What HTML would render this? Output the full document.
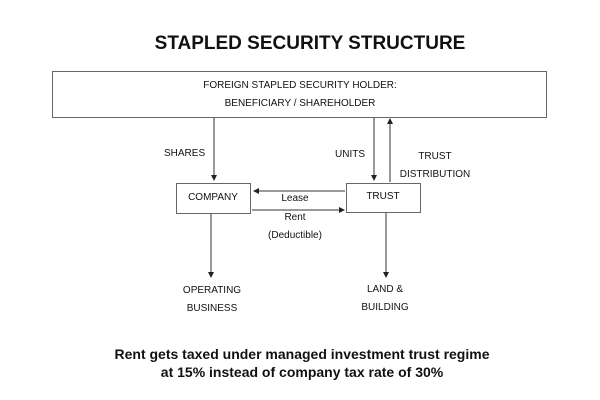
<!DOCTYPE html>
<html><head><style>
html,body{margin:0;padding:0;background:#fff;}
svg{display:block;}
text{font-family:"Liberation Sans",sans-serif;fill:#111;}
.s{font-size:10px;}
</style></head><body>
<svg width="600" height="400" viewBox="0 0 600 400">
<defs><marker id="a" markerWidth="6" markerHeight="6" refX="5" refY="3" orient="auto" markerUnits="userSpaceOnUse"><path d="M0,0 L6,3 L0,6 z" fill="#222"/></marker></defs>
<text x="310" y="49" text-anchor="middle" font-size="19" font-weight="bold">STAPLED SECURITY STRUCTURE</text>
<rect x="52.5" y="71.5" width="494" height="46" fill="none" stroke="#666"/>
<text class="s" x="300" y="88" text-anchor="middle">FOREIGN STAPLED SECURITY HOLDER:</text>
<text class="s" x="300" y="106" text-anchor="middle">BENEFICIARY / SHAREHOLDER</text>
<g stroke="#333" stroke-width="1" fill="none">
<line x1="214" y1="118" x2="214" y2="180" marker-end="url(#a)"/>
<line x1="374" y1="118" x2="374" y2="180" marker-end="url(#a)"/>
<line x1="390" y1="182" x2="390" y2="119" marker-end="url(#a)"/>
<line x1="345" y1="191" x2="254" y2="191" marker-end="url(#a)"/>
<line x1="252" y1="210" x2="344" y2="210" marker-end="url(#a)"/>
<line x1="211" y1="214" x2="211" y2="277" marker-end="url(#a)"/>
<line x1="386" y1="213" x2="386" y2="277" marker-end="url(#a)"/>
</g>
<rect x="176.5" y="183.5" width="74" height="30" fill="none" stroke="#666"/>
<rect x="346.5" y="183.5" width="74" height="29" fill="none" stroke="#666"/>
<text class="s" x="213" y="200" text-anchor="middle">COMPANY</text>
<text class="s" x="383" y="199" text-anchor="middle">TRUST</text>
<text class="s" x="164" y="156">SHARES</text>
<text class="s" x="335" y="157">UNITS</text>
<text class="s" x="435" y="159" text-anchor="middle">TRUST</text>
<text class="s" x="435" y="177" text-anchor="middle">DISTRIBUTION</text>
<text class="s" x="295" y="201" text-anchor="middle">Lease</text>
<text class="s" x="295" y="220" text-anchor="middle">Rent</text>
<text class="s" x="295" y="238" text-anchor="middle">(Deductible)</text>
<text class="s" x="212" y="293" text-anchor="middle">OPERATING</text>
<text class="s" x="212" y="311" text-anchor="middle">BUSINESS</text>
<text class="s" x="385" y="292" text-anchor="middle">LAND &amp;</text>
<text class="s" x="385" y="310" text-anchor="middle">BUILDING</text>
<text x="302" y="359" text-anchor="middle" font-size="14" font-weight="bold">Rent gets taxed under managed investment trust regime</text>
<text x="302" y="377" text-anchor="middle" font-size="14" font-weight="bold">at 15% instead of company tax rate of 30%</text>
</svg>
</body></html>
